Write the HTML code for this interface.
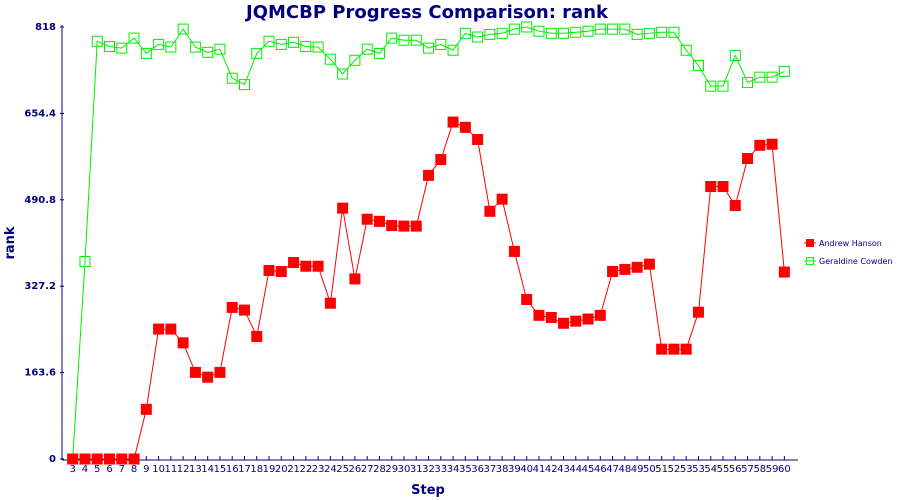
<!DOCTYPE html>
<html><head><meta charset="utf-8"><style>
body{margin:0;background:#fff;}
svg{display:block;font-family:"DejaVu Sans","Liberation Sans",sans-serif;}
</style></head><body>
<svg id="chart" width="900" height="500">
<text x="427" y="18" text-anchor="middle" font-size="18" font-weight="bold" fill="#000080">JQMCBP Progress Comparison: rank</text>
<text x="14" y="243" text-anchor="middle" font-size="13" font-weight="bold" fill="#000080" transform="rotate(-90 14 243)">rank</text>
<text x="428" y="494" text-anchor="middle" font-size="13" font-weight="bold" fill="#000080">Step</text>
<g id="axes"></g>
<g id="series"></g>
<g>
<g>
<line x1="804" y1="243" x2="816" y2="243" stroke="#ff0000"/><rect x="806" y="239" width="8" height="8" fill="#ff0000"/>
<text x="819" y="246" font-size="8" fill="#000080">Andrew Hanson</text></g>
<g>
<line x1="804" y1="261" x2="816" y2="261" stroke="#00ff00"/><rect x="806.5" y="257.5" width="7" height="7" fill="none" stroke="#00ff00"/>
<text x="819" y="264" font-size="8" fill="#000080">Geraldine Cowden</text></g>
</g>
</svg>
<script>
const categories=["3","4","5","6","7","8","9","10","11","12","13","14","15","16","17","18","19","20","21","22","23","24","25","26","27","28","29","30","31","32","33","34","35","36","37","38","39","40","41","42","43","44","45","46","47","48","49","50","51","52","53","53","54","55","56","57","58","59","60"];
const andrewHanson=[0,0,0,0,0,0,94,246,246,220,164,155,164,287,282,232,357,355,372,365,365,295,475,341,454,450,442,441,441,537,567,638,628,605,469,492,393,302,272,268,257,261,265,272,355,359,363,369,208,208,208,278,516,516,480,569,594,596,354];
const geraldineCowden=[0,374,791,781,778,797,768,785,780,814,780,770,776,721,709,768,791,785,789,781,780,757,729,755,776,768,797,793,793,778,785,774,806,799,804,806,814,818,810,806,806,808,810,814,814,814,804,806,808,808,774,745,706,706,764,713,723,723,734];
const yTicks=["0","163.6","327.2","490.8","654.4","818"];
const yMax=818;
const NS="http://www.w3.org/2000/svg";
const X0=72.7,DX=12.27,YT=27,YB=459;
function xs(i){return X0+i*DX;}
function ys(v){return YB-(v/yMax)*(YB-YT);}
function mk(tag,attrs,parent){const e=document.createElementNS(NS,tag);for(const k in attrs)e.setAttribute(k,attrs[k]);parent.appendChild(e);return e;}
const axes=document.getElementById('axes');
const yAxis=mk('line',{x1:62,y1:YT-2,x2:62,y2:460,stroke:'#000080'},axes);


const xAxis=mk('line',{x1:62,y1:460,x2:798,y2:460,stroke:'#000080'},axes);


yTicks.forEach((t)=>{const y=ys(parseFloat(t));
 mk('line',{x1:60,y1:y,x2:64,y2:y,stroke:'#000080'},axes);
 const tx=mk('text',{x:56,y:y+3,'text-anchor':'end','font-size':'10','font-weight':'bold',fill:'#000080'},axes);
 tx.textContent=t;
 
 
});
categories.forEach((c,i)=>{const x=xs(i);
 mk('line',{x1:x,y1:456,x2:x,y2:460,stroke:'#000080'},axes);
 const tx=mk('text',{x:x,y:472,'text-anchor':'middle','font-size':'10',fill:'#000080'},axes);
 tx.textContent=c;
 
 
});
const sg=document.getElementById('series');
function draw(vals,color,filled,name){
 const g=mk('g',{},sg);
 
 
 const pts=vals.map((v,i)=>xs(i).toFixed(1)+','+ys(v).toFixed(1)).join(' ');
 mk('polyline',{points:pts,fill:'none',stroke:color,'stroke-width':1},g);
 vals.forEach((v,i)=>{
  let r;
  if(filled) r=mk('rect',{x:xs(i)-5.5,y:ys(v)-5.5,width:11,height:11,fill:color},g);
  else r=mk('rect',{x:xs(i)-5,y:ys(v)-5,width:10,height:10,fill:'none',stroke:color,'stroke-width':1},g);
  
  
 });
}
draw(geraldineCowden,'#00ee00',false,'series-geraldine-cowden');
draw(andrewHanson,'#ff0000',true,'series-andrew-hanson');
</script>
</body></html>
